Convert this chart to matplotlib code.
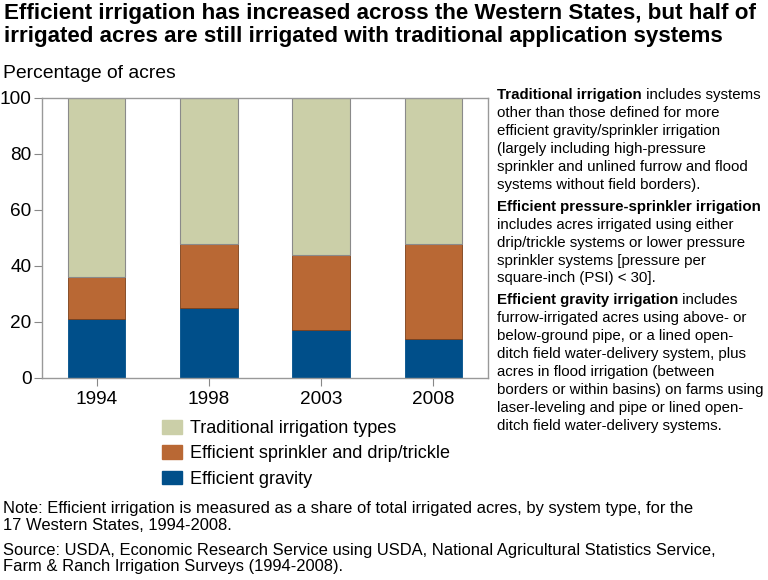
import numpy as np
import matplotlib
matplotlib.use("Agg")
import matplotlib.pyplot as plt
from matplotlib.patches import Patch

plt.rcParams['font.family'] = ['Liberation Sans', 'DejaVu Sans']

years = ['1994', '1998', '2003', '2008']
gravity = [21, 25, 17, 14]
sprinkler = [15, 23, 27, 34]
traditional = [64, 52, 56, 52]

c_trad = '#cbcfa8'
c_spr = '#b96834'
c_grav = '#004f8a'
edge = '#8a8a8a'

W, H = 768, 580
fig = plt.figure(figsize=(W / 100, H / 100), dpi=100)

def fx(px):
    return px / W

def fy(py):
    return 1 - py / H

# axes box in pixels: left 42, right 488, top 98, bottom 378
ax = fig.add_axes([fx(42), fy(378), (488 - 42) / W, (378 - 98) / H])
x = np.arange(len(years))
bw = 0.51
ax.bar(x, gravity, bw, color=c_grav, edgecolor=c_grav, linewidth=0.6)
ax.bar(x, sprinkler, bw, bottom=gravity, color=c_spr, edgecolor='#7a3e18', linewidth=0.6)
bot2 = np.array(gravity) + np.array(sprinkler)
ax.bar(x, traditional, bw, bottom=bot2, color=c_trad, edgecolor=edge, linewidth=0.8)

ax.set_xlim(-0.49, 3.49)
ax.set_ylim(0, 100)
ax.set_yticks([0, 20, 40, 60, 80, 100])
ax.set_xticks(x)
ax.set_xticklabels(years)
ax.tick_params(axis='both', labelsize=13.7, color='#888888', length=6, width=0.8)
ax.tick_params(axis='y', pad=1.5)
ax.tick_params(axis='x', pad=3)
for s in ax.spines.values():
    s.set_color('#999999')
    s.set_linewidth(1.0)

# title
fig.text(fx(4), fy(3), 'Efficient irrigation has increased across the Western States, but half of\n'
         'irrigated acres are still irrigated with traditional application systems',
         fontsize=16.1, fontweight='bold', va='top', ha='left', linespacing=1.1)
fig.text(fx(3), fy(73), 'Percentage of acres', fontsize=13.9, va='center', ha='left')

# legend
handles = [Patch(facecolor=c_trad, edgecolor=c_trad),
           Patch(facecolor=c_spr, edgecolor=c_spr),
           Patch(facecolor=c_grav, edgecolor=c_grav)]
labels = ['Traditional irrigation types', 'Efficient sprinkler and drip/trickle', 'Efficient gravity']
fig.legend(handles, labels, loc='upper left', bbox_to_anchor=(fx(162), fy(420)),
           frameon=False, fontsize=13, handlelength=1.1, handleheight=0.8,
           handletextpad=0.45, labelspacing=0.45, borderaxespad=0, borderpad=0)

# right side definitions
fig.canvas.draw()
renderer = fig.canvas.get_renderer()
fs = 10.8
lines = [
    ('Traditional irrigation', ' includes systems'),
    ('', 'other than those defined for more'),
    ('', 'efficient gravity/sprinkler irrigation'),
    ('', '(largely including high-pressure'),
    ('', 'sprinkler and unlined furrow and flood'),
    ('', 'systems without field borders).'),
    None,
    ('Efficient pressure-sprinkler irrigation', ''),
    ('', 'includes acres irrigated using either'),
    ('', 'drip/trickle systems or lower pressure'),
    ('', 'sprinkler systems [pressure per'),
    ('', 'square-inch (PSI) < 30].'),
    None,
    ('Efficient gravity irrigation', ' includes'),
    ('', 'furrow-irrigated acres using above- or'),
    ('', 'below-ground pipe, or a lined open-'),
    ('', 'ditch field water-delivery system, plus'),
    ('', 'acres in flood irrigation (between'),
    ('', 'borders or within basins) on farms using'),
    ('', 'laser-leveling and pipe or lined open-'),
    ('', 'ditch field water-delivery systems.'),
]
y = 95
x0 = 497
for ln in lines:
    if ln is None:
        y += 3.5
        continue
    b, n = ln
    xx = x0
    if b:
        t = fig.text(fx(xx), fy(y), b, fontsize=fs, fontweight='bold', va='center', ha='left')
        xx += t.get_window_extent(renderer).width
    if n:
        fig.text(fx(xx), fy(y), n, fontsize=fs, va='center', ha='left')
    y += 18

# notes
notes = [
    (508, 'Note: Efficient irrigation is measured as a share of total irrigated acres, by system type, for the'),
    (525, '17 Western States, 1994-2008.'),
    (550, 'Source: USDA, Economic Research Service using USDA, National Agricultural Statistics Service,'),
    (567, 'Farm & Ranch Irrigation Surveys (1994-2008).'),
]
for ny, s in notes:
    fig.text(fx(3), fy(ny), s, fontsize=11.9, va='center', ha='left')

fig.savefig('out.png', dpi=100)
